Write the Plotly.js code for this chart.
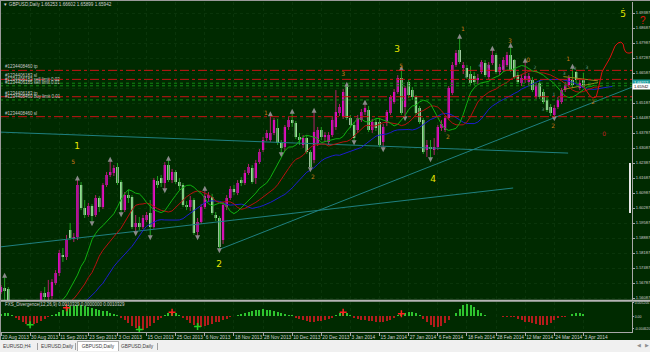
<!DOCTYPE html>
<html><head><meta charset="utf-8">
<script src="https://cdn.plot.ly/plotly-3.0.1.min.js"></script>
<style>
html,body{margin:0;padding:0;width:650px;height:352px;overflow:hidden;background:#f0f0f0;font-family:"Liberation Sans",Arial,sans-serif}
#chart{position:absolute;left:0;top:0;width:650px;height:340px}
#bt{position:absolute;left:0;top:0;width:650px;height:1px;background:#9a9a9a}
#bl{position:absolute;left:0;top:0;width:1px;height:340px;background:#9a9a9a}
#tabs{position:absolute;left:0;top:340px;width:650px;height:12px;background:#f0f0f0;font-size:4.8px;color:#404040}
.tab{position:absolute;top:2px;height:9px;line-height:9px;white-space:nowrap}
.act{background:#ffffff;border:1px solid #b0b0b0;border-bottom:none;top:1px;text-align:center}
.sep{position:absolute;top:3px;width:1px;height:7px;background:#a0a0a0}
.arr{position:absolute;top:2px;font-size:5px;color:#909090}
#vbar{position:absolute;left:629px;top:163px;width:2px;height:50px;background:#e8e8e8}
</style></head>
<body>
<div id="chart"></div>
<div id="bt"></div><div id="bl"></div><div id="vbar"></div>
<div id="tabs">
<span class="tab" style="left:3px">EURUSD,H4</span><span class="sep" style="left:37px"></span>
<span class="tab" style="left:41px">EURUSD,Daily</span><span class="sep" style="left:75px"></span>
<span class="tab act" style="left:77px;width:40px">GBPUSD,Daily</span>
<span class="tab" style="left:121px">GBPUSD,Daily</span><span class="sep" style="left:157px"></span>
<span class="arr" style="left:637px">&#9664;</span><span class="arr" style="left:645px">&#9654;</span>
</div>
<script>
// ---------- data ----------
const dateLabels = ["20 Aug 2013","30 Aug 2013","11 Sep 2013","23 Sep 2013","3 Oct 2013","15 Oct 2013","25 Oct 2013","6 Nov 2013","18 Nov 2013","28 Nov 2013","10 Dec 2013","20 Dec 2013","3 Jan 2014","15 Jan 2014","27 Jan 2014","6 Feb 2014","18 Feb 2014","28 Feb 2014","12 Mar 2014","24 Mar 2014","3 Apr 2014"];
const barsPerLabel = 8;

const open = [
1.5637,1.5655,1.5651,1.5576,1.5545,1.5520,1.5560,1.5500,1.5530,1.5495,
1.5540,1.5590,1.5632,1.5613,1.5618,1.5679,1.5725,1.5809,1.5800,1.5926,
1.5889,1.5893,1.6136,1.6029,1.5996,1.6038,1.5996,1.6075,1.6033,1.6136,
1.6183,1.6192,1.6220,1.6150,1.6019,1.6089,1.6080,1.5940,1.5959,1.5940,
1.5973,1.6005,1.5940,1.6155,1.6169,1.6145,1.6229,1.6159,1.6197,1.6150,
1.6136,1.6043,1.6033,1.6066,1.5917,1.5963,1.6033,1.6075,1.6080,1.5996,
1.5982,1.5879,1.6033,1.6075,1.6117,1.6099,1.6159,1.6145,1.6192,1.6215,
1.6169,1.6243,1.6299,1.6355,1.6346,1.6379,1.6402,1.6332,1.6313,1.6407,
1.6439,1.6425,1.6360,1.6323,1.6355,1.6290,1.6253,1.6332,1.6393,1.6360,
1.6337,1.6369,1.6407,1.6472,1.6453,1.6593,1.6449,1.6416,1.6393,1.6439,
1.6477,1.6486,1.6393,1.6430,1.6430,1.6337,1.6425,1.6472,1.6523,1.6570,
1.6635,1.6500,1.6617,1.6579,1.6547,1.6495,1.6439,1.6299,1.6313,1.6299,
1.6313,1.6402,1.6393,1.6449,1.6565,1.6696,1.6766,1.6682,1.6682,1.6654,
1.6645,1.6626,1.6663,1.6705,1.6640,1.6705,1.6743,1.6663,1.6673,1.6696,
1.6743,1.6719,1.6649,1.6612,1.6626,1.6617,1.6626,1.6547,1.6612,1.6570,
1.6533,1.6500,1.6463,1.6500,1.6523,1.6579,1.6603,1.6626,1.6663,1.6589,
1.66253];
const high = [
1.5669,1.5707,1.5660,1.5590,1.5560,1.5575,1.5570,1.5545,1.5540,1.5555,
1.5595,1.5641,1.5660,1.5693,1.5697,1.5739,1.5833,1.5842,1.5903,1.5959,
1.5912,1.6160,1.6150,1.6066,1.6052,1.6047,1.6089,1.6085,1.6145,1.6197,
1.6248,1.6229,1.6239,1.6159,1.6103,1.6113,1.6089,1.5996,1.5987,1.5996,
1.6010,1.6066,1.6169,1.6178,1.6183,1.6243,1.6253,1.6211,1.6206,1.6169,
1.6145,1.6061,1.6085,1.6075,1.5982,1.6047,1.6113,1.6103,1.6094,1.6010,
1.5991,1.6057,1.6089,1.6131,1.6136,1.6159,1.6173,1.6206,1.6234,1.6229,
1.6253,1.6304,1.6360,1.6393,1.6460,1.6449,1.6444,1.6346,1.6416,1.6453,
1.6472,1.6435,1.6379,1.6369,1.6369,1.6299,1.6477,1.6407,1.6407,1.6383,
1.6383,1.6453,1.6579,1.6514,1.6584,1.6598,1.6463,1.6430,1.6463,1.6491,
1.6514,1.6505,1.6444,1.6444,1.6449,1.6421,1.6486,1.6556,1.6584,1.6649,
1.6673,1.6598,1.6626,1.6593,1.6556,1.6505,1.6449,1.6346,1.6346,1.6355,
1.6416,1.6439,1.6458,1.6598,1.6710,1.6766,1.6822,1.6710,1.6696,1.6691,
1.6663,1.6654,1.6719,1.6719,1.6710,1.6766,1.6752,1.6701,1.6733,1.6757,
1.6780,1.6724,1.6663,1.6649,1.6710,1.6659,1.6640,1.6612,1.6626,1.6584,
1.6547,1.6514,1.6509,1.6547,1.6589,1.6617,1.6649,1.6682,1.6668,1.6626,
1.66602];
const low = [
1.5627,1.5599,1.5567,1.5530,1.5505,1.5510,1.5490,1.5480,1.5470,1.5485,
1.5530,1.5581,1.5599,1.5595,1.5604,1.5669,1.5711,1.5777,1.5786,1.5879,
1.5870,1.5879,1.6019,1.5982,1.5987,1.5963,1.5987,1.6010,1.6024,1.6127,
1.6173,1.6178,1.6136,1.6005,1.6010,1.6052,1.5931,1.5917,1.5926,1.5931,
1.5963,1.5898,1.5931,1.6122,1.6127,1.6117,1.6150,1.6145,1.6141,1.6113,
1.6033,1.6019,1.6015,1.5903,1.5898,1.5954,1.6024,1.6057,1.5996,1.5968,
1.5837,1.5861,1.6019,1.6066,1.6089,1.6089,1.6131,1.6136,1.6183,1.6141,
1.6141,1.6234,1.6290,1.6341,1.6337,1.6369,1.6323,1.6285,1.6295,1.6393,
1.6407,1.6351,1.6323,1.6309,1.6281,1.6215,1.6239,1.6318,1.6346,1.6337,
1.6323,1.6360,1.6393,1.6458,1.6444,1.6439,1.6402,1.6341,1.6379,1.6430,
1.6463,1.6383,1.6379,1.6388,1.6313,1.6309,1.6411,1.6463,1.6514,1.6561,
1.6463,1.6453,1.6542,1.6533,1.6463,1.6421,1.6281,1.6267,1.6262,1.6276,
1.6299,1.6388,1.6383,1.6439,1.6556,1.6687,1.6701,1.6654,1.6631,1.6603,
1.6603,1.6607,1.6654,1.6640,1.6631,1.6696,1.6654,1.6649,1.6663,1.6687,
1.6663,1.6631,1.6607,1.6598,1.6612,1.6603,1.6570,1.6537,1.6537,1.6514,
1.6477,1.6458,1.6453,1.6491,1.6514,1.6570,1.6593,1.6589,1.6612,1.6579,
1.65899];
const close = [
1.5660,1.5641,1.5576,1.5545,1.5520,1.5560,1.5500,1.5530,1.5495,1.5540,
1.5585,1.5632,1.5613,1.5637,1.5683,1.5725,1.5819,1.5800,1.5879,1.5889,
1.5893,1.6136,1.6029,1.5996,1.6038,1.5991,1.6075,1.6033,1.6136,1.6183,
1.6197,1.6215,1.6145,1.6019,1.6089,1.6075,1.5940,1.5959,1.5940,1.5982,
1.5996,1.5940,1.6159,1.6136,1.6145,1.6229,1.6159,1.6197,1.6150,1.6131,
1.6043,1.6033,1.6066,1.5912,1.5963,1.6033,1.6085,1.6089,1.6005,1.5982,
1.5847,1.6043,1.6075,1.6117,1.6103,1.6145,1.6145,1.6192,1.6220,1.6150,
1.6239,1.6290,1.6346,1.6379,1.6379,1.6439,1.6332,1.6309,1.6407,1.6439,
1.6425,1.6360,1.6346,1.6355,1.6290,1.6220,1.6383,1.6393,1.6360,1.6369,
1.6369,1.6439,1.6477,1.6500,1.6570,1.6449,1.6416,1.6355,1.6449,1.6477,
1.6495,1.6393,1.6430,1.6402,1.6323,1.6407,1.6477,1.6547,1.6570,1.6635,
1.6472,1.6589,1.6556,1.6547,1.6472,1.6430,1.6290,1.6323,1.6304,1.6313,
1.6407,1.6421,1.6449,1.6589,1.6696,1.6752,1.6710,1.6696,1.6640,1.6612,
1.6617,1.6635,1.6710,1.6649,1.6696,1.6743,1.6663,1.6687,1.6719,1.6743,
1.6673,1.6640,1.6617,1.6635,1.6645,1.6645,1.6579,1.6603,1.6547,1.6523,
1.6486,1.6472,1.6495,1.6533,1.6579,1.6603,1.6635,1.6603,1.6626,1.6612,
1.65942];

// FXS_Divergence histogram
const divHist = [
0.0010,0.0013,0.0012,0.0006,-0.0004,-0.0012,-0.0020,-0.0027,-0.0032,-0.0030,
-0.0025,-0.0018,-0.0010,-0.0003,0.0004,0.0010,0.0018,0.0026,0.0034,0.0039,
0.0042,0.0044,0.0043,0.0041,0.0038,0.0034,0.0030,0.0026,0.0023,0.0020,
0.0015,0.0010,0.0005,-0.0005,-0.0015,-0.0026,-0.0036,-0.0045,-0.0050,-0.0052,
-0.0046,-0.0036,-0.0024,-0.0012,-0.0004,0.0006,0.0012,0.0016,0.0012,0.0005,
-0.0006,-0.0015,-0.0024,-0.0033,-0.0039,-0.0040,-0.0037,-0.0032,-0.0027,-0.0023,
-0.0020,-0.0015,-0.0009,-0.0003,0.0003,0.0006,0.0010,0.0014,0.0018,0.0021,
0.0024,0.0026,0.0027,0.0026,0.0024,0.0021,0.0017,0.0013,0.0010,0.0007,
0.0004,-0.0004,-0.0010,-0.0015,-0.0018,-0.0020,-0.0021,-0.0019,-0.0016,-0.0012,
-0.0008,-0.0004,0.0005,0.0012,0.0016,0.0013,0.0006,-0.0006,-0.0010,-0.0012,
-0.0014,-0.0016,-0.0018,-0.0020,-0.0021,-0.0020,-0.0017,-0.0012,-0.0006,0.0005,
0.0011,0.0015,0.0017,0.0016,0.0012,0.0006,-0.0008,-0.0022,-0.0034,-0.0040,
-0.0041,-0.0035,-0.0025,-0.0012,0.0003,0.0014,0.0030,0.0045,0.0050,0.0046,
0.0036,0.0026,0.0014,0.0007,0.0003,0.0002,0.0001,0.0001,-0.0001,-0.0001,
-0.0002,-0.0003,-0.0009,-0.0015,-0.0020,-0.0023,-0.0026,-0.0029,-0.0032,-0.0033,
-0.0032,-0.0024,-0.0015,-0.0006,-0.0003,-0.0001,0.0003,0.0009,0.0014,0.0015,
0.0010329];
const divUpSignals = [18, 47, 94, 110];
const divDownSignals = [8, 38, 54];

const upFractals = [1,21,30,46,56,74,80,86,95,100,110,126,135,140,144,157];
const downFractals = [25,33,37,41,45,54,60,77,85,97,105,111,118,152];

const priceTicks = [1.69387,1.68687,1.67987,1.67287,1.66587,1.65887,1.65187,1.64487,1.63787,1.63087,1.62387,1.61687,1.60987,1.60287,1.59587,1.58887,1.58187,1.57487,1.56787,1.56087];

const orderLevels = [1.6671, 1.6629, 1.6611, 1.6599, 1.6548, 1.6533, 1.6455];
const orderTypes  = ['stop','stop','pend','pend','stop','pend','stop'];
const orderNames  = ['#1234408460 tp','#1234406183 sl','#1234406183 sell limit 0.02','#1234406185 sell limit 0.01','#1234406183 tp','#1234408460 buy limit 0.01','#1234408460 sl'];

const trendX = [[-0.3,155.8],[-0.3,140.7],[59.6,173.4]];
const trendY = [[1.6383,1.6285],[1.5847,1.6122],[1.5833,1.6593]];
const wedgeX = [[154.5,164.0],[154.5,164.0]];
const wedgeY = [[1.6642,1.6622],[1.6582,1.6614]];

const projX = [159.9,161.0,161.8,162.6,163.5,164.0,164.6,165.1,165.7,166.4,167.3,168.1,168.7,169.5,170.3,170.9,171.2,171.6,172.2,172.8,173.4];
const projY = [1.6598,1.6570,1.6552,1.6542,1.6547,1.6579,1.6631,1.6663,1.6682,1.6701,1.6729,1.6761,1.6785,1.6799,1.6803,1.6794,1.6771,1.6757,1.6752,1.6752,1.6757];

const waveMajorText = ['1','2','3','4','5'];
const waveMajorX = [20.9,59.9,108.8,118.7,170.9];
const waveMajorY = [1.6313,1.5763,1.6766,1.6159,1.6929];
const waveMinorText = ['5','1','2','3','5','2','1','3','0','2','1','2'];
const waveMinorX = [19.8,72.8,85.7,94.0,109.9,122.8,126.9,139.8,144.8,151.7,155.8,162.6];
const waveMinorY = [1.6239,1.6472,1.6169,1.6654,1.6691,1.6360,1.6864,1.6808,1.6715,1.6407,1.6724,1.6519];
const waveRedText = ['0'];
const waveRedX = [165.7];
const waveRedY = [1.6374];
const cntText = ['3','4','5','3','2','3','3','1','3','3','3'];
const cntX = [127.7,131.6,134.0,137.9,146.7,145.3,148.9,151.9,154.7,157.7,161.0];
const cntY = [1.6640,1.6691,1.6687,1.6682,1.6682,1.6626,1.6486,1.6556,1.6654,1.6677,1.6682];

const titleText = 'GBPUSD,Daily 1.66253 1.66602 1.65899 1.65942';
const indText = 'FXS_Divergence(12,26,9) 0.0010329 0.0000000 0.0010329';

// ---------- derived ----------
const idx = open.map((_, i) => i);
const BG = '#002a00', GRID = '#0a350a', AX = '#a8a8a8', TXT = '#d0d0d0';
const median = high.map((h, i) => (h + low[i]) / 2);
function smma(src, n) {
  const out = new Array(src.length).fill(null); let s = 0;
  for (let i = n - 1; i < src.length; i++) {
    if (i === n - 1) { let t = 0; for (let k = 0; k < n; k++) t += src[k]; s = t / n; }
    else s = (s * (n - 1) + src[i]) / n;
    out[i] = s;
  }
  return out;
}
function alligator(n, shift, color) {
  const v = smma(median, n), xs = [], ys = [];
  v.forEach((val, i) => { if (val !== null) { xs.push(i + shift); ys.push(val); } });
  return {type:'scatter', mode:'lines', x:xs, y:ys, line:{color, width:1}, hoverinfo:'skip'};
}

const traces = [];
trendX.forEach((tx, k) => traces.push({type:'scatter', mode:'lines', x:tx, y:trendY[k], line:{color:'#1f8080', width:1}, hoverinfo:'skip'}));
wedgeX.forEach((tx, k) => traces.push({type:'scatter', mode:'lines', x:tx, y:wedgeY[k], line:{color:'#9a8a1a', width:1}, hoverinfo:'skip'}));
traces.push({type:'ohlc', x:idx, open, high, low, close, tickwidth:0,
  increasing:{line:{color:'#b0206a', width:1}}, decreasing:{line:{color:'#1fa01f', width:1}}, hoverinfo:'skip'});
traces.push({type:'candlestick', x:idx, open, high, low, close, whiskerwidth:0,
  increasing:{line:{color:'#ff00ff', width:0}, fillcolor:'#ff00ff'},
  decreasing:{line:{color:'#e8ffe8', width:0}, fillcolor:'#e8ffe8'}, hoverinfo:'skip'});
traces.push(alligator(13, 8, '#1c1cd0'));
traces.push(alligator(8, 5, '#b81010'));
traces.push(alligator(5, 3, '#10b010'));
traces.push({type:'scatter', mode:'markers', x:upFractals, y:upFractals.map(i => high[i] + 0.0020),
  marker:{symbol:'arrow-up', size:5, color:'#8a8a8a'}, hoverinfo:'skip'});
traces.push({type:'scatter', mode:'markers', x:downFractals, y:downFractals.map(i => low[i] - 0.0020),
  marker:{symbol:'arrow-down', size:5, color:'#8a8a8a'}, hoverinfo:'skip'});
traces.push({type:'scatter', mode:'lines', x:projX, y:projY, line:{color:'#e01010', width:1}, hoverinfo:'skip'});
traces.push({type:'scatter', mode:'text', x:cntX, y:cntY, text:cntText,
  textfont:{family:'DejaVu Sans, sans-serif', size:4.5, color:'#6e9a8e'}, hoverinfo:'skip'});
traces.push({type:'scatter', mode:'text', x:waveMajorX, y:waveMajorY, text:waveMajorText,
  textfont:{family:'DejaVu Sans, sans-serif', size:9, color:'#e6e600'}, hoverinfo:'skip', cliponaxis:false});
traces.push({type:'scatter', mode:'text', x:waveMinorX, y:waveMinorY, text:waveMinorText,
  textfont:{family:'DejaVu Sans, sans-serif', size:6, color:'#c87818'}, hoverinfo:'skip', cliponaxis:false});
traces.push({type:'scatter', mode:'text', x:waveRedX, y:waveRedY, text:waveRedText,
  textfont:{family:'DejaVu Sans, sans-serif', size:6, color:'#c02020'}, hoverinfo:'skip'});
traces.push({type:'bar', x:idx, y:divHist, xaxis:'x', yaxis:'y2', width:0.55,
  marker:{color:divHist.map(v => v >= 0 ? '#2ec42e' : '#b41c1c'), line:{width:0}}, hoverinfo:'skip'});
traces.push({type:'scatter', mode:'markers', x:divUpSignals, y:divUpSignals.map(i => divHist[i]), xaxis:'x', yaxis:'y2',
  marker:{symbol:'cross-thin', size:5, line:{color:'#ff2020', width:1.5}}, hoverinfo:'skip'});
traces.push({type:'scatter', mode:'markers', x:divDownSignals, y:divDownSignals.map(i => divHist[i]), xaxis:'x', yaxis:'y2',
  marker:{symbol:'cross-thin', size:5, line:{color:'#20d020', width:1.5}}, hoverinfo:'skip'});

const shapes = orderLevels.map((lv, k) => ({type:'line', xref:'paper', x0:0, x1:1, yref:'y', y0:lv, y1:lv,
  line:{color: orderTypes[k] === 'stop' ? '#c81414' : '#138a13', width:1, dash: orderTypes[k] === 'stop' ? 'dashdot' : 'dot'}}));
shapes.push({type:'line', xref:'paper', x0:0, x1:1.03, yref:'paper', y0:0.0948, y1:0.0948, line:{color:'#b4b4b4', width:2}});

const annotations = orderNames.map((t, k) => ({xref:'paper', x:0.006, xanchor:'left', yref:'y', y:orderLevels[k], yanchor:'bottom',
  text:t, showarrow:false, font:{size:4.5, color:'#c8c8c8'}, borderpad:0}));
annotations.push({xref:'paper', x:0.002, xanchor:'left', yref:'paper', y:0.991, yanchor:'middle', text:'\u25BC ' + titleText, showarrow:false, font:{size:4.6, color:TXT}});
annotations.push({xref:'paper', x:0.004, xanchor:'left', yref:'paper', y:0.082, yanchor:'middle', text:indText, showarrow:false, font:{size:4.5, color:TXT}});
annotations.push({xref:'paper', x:1, xanchor:'left', yref:'y', y:1.6614, yanchor:'middle', text:'1.66112', showarrow:false,
  font:{size:4, color:'#ffffff'}, bgcolor:'#1a9c9c', width:17, height:5, borderpad:0});
annotations.push({xref:'paper', x:1, xanchor:'left', yref:'y', y:close[close.length - 1], yanchor:'middle', text:close[close.length - 1].toFixed(5), showarrow:false,
  font:{size:4, color:'#000000'}, bgcolor:'#ffffff', width:17, height:4.5, borderpad:0});
annotations.push({xref:'paper', x:1.009, xanchor:'left', yref:'y', y:1.6906, yanchor:'middle', text:'?', showarrow:false, font:{size:10, color:'#e01010'}});
annotations.push({xref:'x', x:170.9, yref:'y', y:1.6968, yanchor:'middle', text:'.', showarrow:false, font:{size:8, color:'#e6e600'}});

const layout = {
  width:650, height:340, margin:{l:0, r:18, t:2, b:8},
  paper_bgcolor:BG, plot_bgcolor:BG, showlegend:false,
  font:{family:'Liberation Sans, Arial, sans-serif', size:5, color:TXT},
  bargap:0, boxgap:0.12,
  xaxis:{range:[-0.275, 173.35], tickvals:dateLabels.map((_, k) => k * barsPerLabel), ticktext:dateLabels, tickangle:0,
    ticks:'outside', ticklen:3, tickcolor:AX, ticklabelposition:'outside right', tickfont:{size:4.8, color:TXT},
    showgrid:true, gridcolor:GRID, griddash:'dot', zeroline:false, showline:true, linecolor:AX, linewidth:1,
    anchor:'y2', fixedrange:true, rangeslider:{visible:false}},
  yaxis:{domain:[0.097, 1], range:[1.55994, 1.69901], side:'right', tickvals:priceTicks, tickformat:'.5f',
    ticks:'outside', ticklen:2, tickcolor:AX, tickfont:{size:4, color:TXT}, showgrid:true, gridcolor:GRID, griddash:'dot',
    zeroline:false, showline:true, linecolor:AX, fixedrange:true},
  yaxis2:{domain:[0, 0.0909], range:[-0.00597, 0.00558], side:'right', tickvals:[0.0052, 0, -0.0048],
    ticktext:['0.005205','0.00','-0.004620'], ticks:'outside', ticklen:1, tickcolor:AX, tickfont:{size:3.5, color:TXT},
    showgrid:false, zeroline:false, showline:true, linecolor:AX, fixedrange:true},
  shapes, annotations
};
Plotly.newPlot('chart', traces, layout, {staticPlot:true, displayModeBar:false});
</script>
</body></html>
